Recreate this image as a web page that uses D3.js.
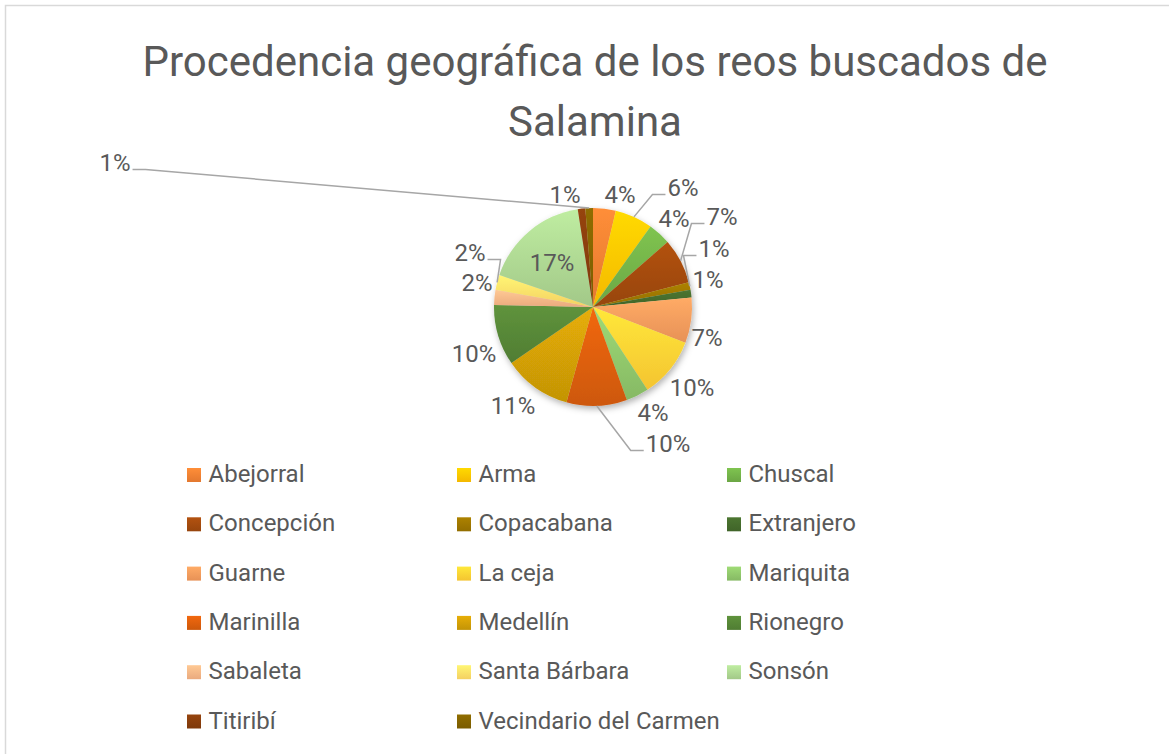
<!DOCTYPE html>
<html>
<head>
<meta charset="utf-8">
<script src="https://cdn.jsdelivr.net/npm/d3@7"></script>
<style>
  html, body { margin: 0; padding: 0; background: #fff; }
  svg { display: block; font-family: Roboto, "Noto Sans", sans-serif; }
</style>
</head>
<body>
<svg id="chart" width="1169" height="754"></svg>
<script>
// chart data (counts per place of origin, 81 in total)
var places = ['Abejorral', 'Arma', 'Chuscal', 'Concepción', 'Copacabana', 'Extranjero',
    'Guarne', 'La ceja', 'Mariquita', 'Marinilla', 'Medellín', 'Rionegro',
    'Sabaleta', 'Santa Bárbara', 'Sonsón', 'Titiribí', 'Vecindario del Carmen'];
var counts = [3, 5, 3, 6, 1, 1, 6, 8, 3, 8, 9, 8, 2, 2, 14, 1, 1];
var titleLines = ['Procedencia geográfica de los reos buscados de', 'Salamina'];

// slice colours (Excel orange / gold / green palette)
var colors = ['#ED7D31', '#FFC000', '#70AD47', '#9E480E', '#997300', '#43682B',
    '#F1975A', '#FFCD33', '#8CC168', '#D65C0C', '#CC9A06', '#548235',
    '#F4B183', '#FFD966', '#A9D18E', '#843C0C', '#7F6000'];

// label placement relative to the pie centre, and which labels get a leader line
var labelOffsets = [[27, -112], [90, -119], [81, -88], [129, -90], [121, -58], [115, -27],
    [114, 31], [99, 81], [60, 106], [75, 137], [-80, 99], [-119, 47],
    [-116, -24], [-123, -54], [-41, -44], [-28, -112], [-478, -144]];
var hasLeader = [false, true, false, true, true, false, false, false, false, true,
    false, false, false, true, false, false, true];

var cx = 593, cy = 307, R = 99;
var textColor = '#595959';

var svg = d3.select('#chart');
var defs = svg.append('defs');

// soft shadow under the pie
var shadow = defs.append('filter').attr('id', 'shadow')
    .attr('x', '-20%').attr('y', '-20%').attr('width', '140%').attr('height', '140%');
shadow.append('feDropShadow')
    .attr('dx', 1.5).attr('dy', 3).attr('stdDeviation', 3)
    .attr('flood-color', '#000').attr('flood-opacity', 0.3);

// one vertical gradient per colour, lighter at the top
colors.forEach(function (c, i) {
    var g = defs.append('linearGradient').attr('id', 'grad' + i)
        .attr('x1', 0).attr('y1', 0).attr('x2', 0).attr('y2', 1);
    g.append('stop').attr('offset', '0%').attr('stop-color', d3.color(c).brighter(0.35));
    g.append('stop').attr('offset', '100%').attr('stop-color', d3.color(c).darker(0.12));
});

// chart border
svg.append('rect')
    .attr('x', 5.5).attr('y', 5.5)
    .attr('width', 1200).attr('height', 800)
    .attr('fill', 'none')
    .attr('stroke', '#d9d9d9')
    .attr('stroke-width', 1.5);

// title
svg.append('g').selectAll('text')
    .data(titleLines)
    .enter().append('text')
    .attr('x', 595)
    .attr('y', function (d, i) { return 76 + i * 60; })
    .attr('text-anchor', 'middle')
    .attr('font-size', 42)
    .attr('fill', textColor)
    .text(function (d) { return d; });

// pie
var total = d3.sum(counts);
var pie = d3.pie().sort(null).value(function (d) { return d; });
var arcs = pie(counts);
var arc = d3.arc().innerRadius(0).outerRadius(R);
var edgeArc = d3.arc().innerRadius(R).outerRadius(R);

var pieG = svg.append('g')
    .attr('transform', 'translate(' + cx + ',' + cy + ')');

pieG.append('g')
    .attr('filter', 'url(#shadow)')
    .selectAll('path')
    .data(arcs)
    .enter().append('path')
    .attr('d', arc)
    .attr('fill', function (d, i) { return 'url(#grad' + i + ')'; });

// data labels
var labels = pieG.append('g').selectAll('text')
    .data(arcs)
    .enter().append('text')
    .attr('x', function (d, i) { return labelOffsets[i][0]; })
    .attr('y', function (d, i) { return labelOffsets[i][1]; })
    .attr('text-anchor', 'middle')
    .attr('dominant-baseline', 'central')
    .attr('font-size', 24)
    .attr('fill', textColor)
    .text(function (d) { return Math.round(d.value / total * 100) + '%'; });

// leader lines from label side to slice edge
labels.each(function (d, i) {
    if (!hasLeader[i]) return;
    var box = this.getBBox();
    var end = edgeArc.centroid(d);
    var onLeft = labelOffsets[i][0] < end[0];
    var sx = onLeft ? box.x + box.width + 2 : box.x - 2;
    var sy = labelOffsets[i][1] + 6.5;
    var ex = onLeft ? sx + 13 : sx - 13;
    pieG.append('polyline')
        .attr('points', [[sx, sy], [ex, sy], end].map(function (p) { return p.join(','); }).join(' '))
        .attr('fill', 'none')
        .attr('stroke', '#a6a6a6')
        .attr('stroke-width', 1.5);
});

// legend, three columns
var legend = svg.append('g').selectAll('g')
    .data(places)
    .enter().append('g')
    .attr('transform', function (d, i) {
        return 'translate(' + (187 + (i % 3) * 270) + ',' + (468 + Math.floor(i / 3) * 49.3) + ')';
    });

legend.append('rect')
    .attr('width', 14).attr('height', 14)
    .attr('fill', function (d, i) { return 'url(#grad' + i + ')'; });

legend.append('text')
    .attr('x', 21.5).attr('y', 14)
    .attr('font-size', 24)
    .attr('fill', textColor)
    .text(function (d) { return d; });
</script>
</body>
</html>
